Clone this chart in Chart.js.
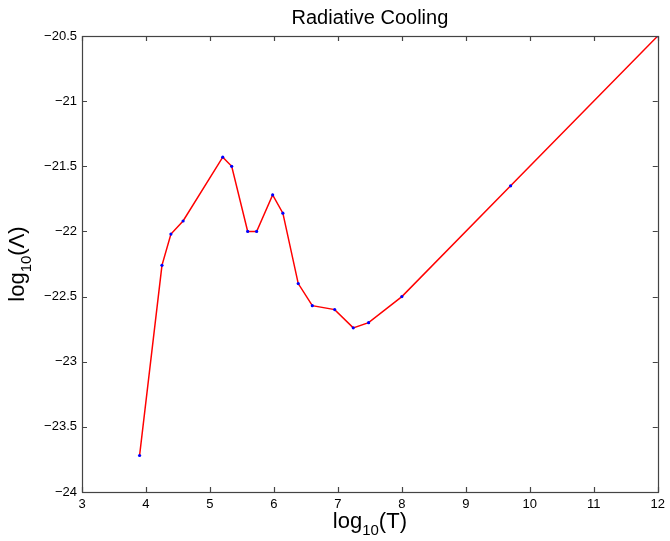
<!DOCTYPE html>
<html>
<head>
<meta charset="utf-8">
<script src="https://cdn.jsdelivr.net/npm/chart.js@4"></script>
<style>
  html, body { margin: 0; padding: 0; background: #fff; }
  #wrap { width: 670px; height: 541px; }
</style>
</head>
<body>
<div id="wrap"><canvas id="coolingChart" width="670" height="541"></canvas></div>
<script>
// data
const logT = [3.9, 4.25, 4.39, 4.58, 5.2, 5.34, 5.59, 5.73, 5.98, 6.14, 6.38, 6.6, 6.95, 7.24, 7.48, 8.0, 9.7, 12];
const logLambda = [-23.72, -22.26, -22.02, -21.92, -21.43, -21.5, -22.0, -22.0, -21.72, -21.86, -22.4, -22.57, -22.6, -22.74, -22.7, -22.5, -21.65, -20.5];
const xTicks = [3, 4, 5, 6, 7, 8, 9, 10, 11, 12];
const yTicks = [-24, -23.5, -23, -22.5, -22, -21.5, -21, -20.5];

const titleText = "Radiative Cooling";
const xLabel = ["log", "10", "(T)"];
const yLabel = ["log", "10", "(Λ)"];

const FONT = "'Liberation Sans', Arial, sans-serif";

function fmt(v) {
  return v < 0 ? "\u2212" + Math.abs(v) : String(v);
}

// draws text with a subscript part, centered at (0,0) of current transform
function drawSub(ctx, parts, size) {
  const big = size + "px " + FONT;
  const small = Math.round(size * 0.7) + "px " + FONT;
  ctx.font = big;
  const w1 = ctx.measureText(parts[0]).width;
  const w3 = ctx.measureText(parts[2]).width;
  ctx.font = small;
  const w2 = ctx.measureText(parts[1]).width;
  let x = -(w1 + w2 + w3) / 2;
  ctx.textAlign = "left";
  ctx.textBaseline = "alphabetic";
  ctx.font = big;
  ctx.fillText(parts[0], x, 0);
  x += w1;
  ctx.font = small;
  ctx.fillText(parts[1], x, size * 0.3);
  x += w2;
  ctx.font = big;
  ctx.fillText(parts[2], x, 0);
}

const framePlugin = {
  id: "frame",
  afterDraw(chart) {
    const ctx = chart.ctx;
    const a = chart.chartArea;
    const xs = chart.scales.x, ys = chart.scales.y;
    ctx.save();
    ctx.strokeStyle = "#444";
    ctx.lineWidth = 1.2;
    ctx.strokeRect(Math.round(a.left) + 0.5, Math.round(a.top) + 0.5,
      Math.round(a.right - a.left), Math.round(a.bottom - a.top));
    ctx.beginPath();
    xTicks.forEach(v => {
      const px = Math.round(xs.getPixelForValue(v)) + 0.5;
      ctx.moveTo(px, a.bottom); ctx.lineTo(px, a.bottom - 5);
      ctx.moveTo(px, a.top); ctx.lineTo(px, a.top + 5);
    });
    yTicks.forEach(v => {
      const py = Math.round(ys.getPixelForValue(v)) + 0.5;
      ctx.moveTo(a.left, py); ctx.lineTo(a.left + 5, py);
      ctx.moveTo(a.right, py); ctx.lineTo(a.right - 5, py);
    });
    ctx.stroke();

    ctx.fillStyle = "#000";
    // title
    ctx.font = "20px " + FONT;
    ctx.textAlign = "center";
    ctx.textBaseline = "alphabetic";
    ctx.fillText(titleText, (a.left + a.right) / 2, 24);
    // x axis label
    ctx.save();
    ctx.translate((a.left + a.right) / 2, 528);
    drawSub(ctx, xLabel, 22);
    ctx.restore();
    // y axis label
    ctx.save();
    ctx.translate(24, (a.top + a.bottom) / 2);
    ctx.rotate(-Math.PI / 2);
    drawSub(ctx, yLabel, 22);
    ctx.restore();
    ctx.restore();
  }
};

new Chart(document.getElementById("coolingChart"), {
  type: "line",
  data: {
    datasets: [{
      data: logT.map((t, i) => ({ x: t, y: logLambda[i] })),
      borderColor: "#ff0000",
      borderWidth: 1.5,
      pointRadius: 1.6,
      pointBackgroundColor: "#0000ff",
      pointBorderWidth: 0,
      tension: 0
    }]
  },
  options: {
    responsive: false,
    animation: false,
    layout: { padding: { top: 36, right: 10, left: 0, bottom: 0 } },
    plugins: { legend: { display: false }, title: { display: false }, tooltip: { enabled: false } },
    scales: {
      x: {
        type: "linear",
        min: 3, max: 12,
        afterBuildTicks: s => { s.ticks = xTicks.map(v => ({ value: v })); },
        afterFit: s => { s.height = 49; },
        grid: { display: false, drawTicks: false },
        border: { display: false },
        ticks: { color: "#000", font: { family: FONT, size: 13 }, padding: 5, maxRotation: 0, callback: v => fmt(v) }
      },
      y: {
        type: "linear",
        min: -24, max: -20.5,
        afterBuildTicks: s => { s.ticks = yTicks.map(v => ({ value: v })); },
        afterFit: s => { s.width = 82; },
        grid: { display: false, drawTicks: false },
        border: { display: false },
        ticks: { color: "#000", font: { family: FONT, size: 13 }, padding: 5, callback: v => fmt(v) }
      }
    }
  },
  plugins: [framePlugin]
});
</script>
</body>
</html>
